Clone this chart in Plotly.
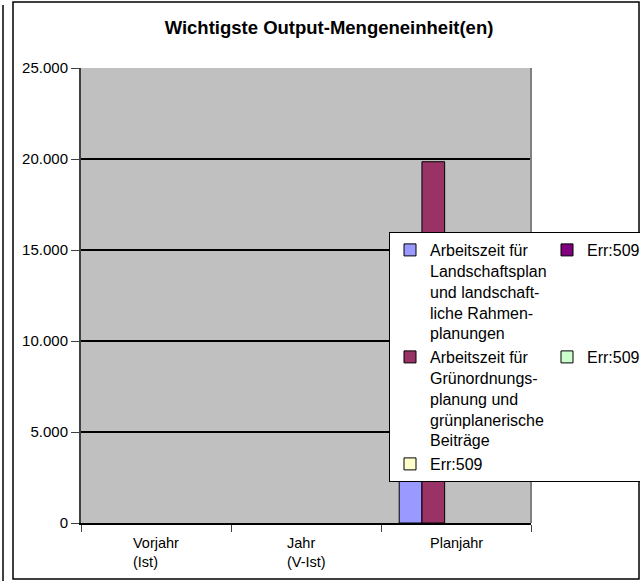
import plotly.graph_objects as go

categories = ["Vorjahr", "Jahr", "Planjahr"]
cat_labels = ["Vorjahr<br>(Ist)", "Jahr<br>(V-Ist)", "Planjahr"]

series_names = [
    "Arbeitszeit für<br>Landschaftsplan<br>und landschaft-<br>liche Rahmen-<br>planungen",
    "Arbeitszeit für<br>Grünordnungs-<br>planung und<br>grünplanerische<br>Beiträge",
    "Err:509",
    "Err:509",
    "Err:509",
]
series_values = [
    [None, None, 9000],
    [None, None, 19850],
    [None, None, None],
    [None, None, None],
    [None, None, None],
]
series_colors = ["#9999FF", "#993366", "#FFFFCC", "#800080", "#CCFFCC"]
legend_rank = [1, 3, 5, 2, 4]

W, H = 640, 581
L, R, T, B = 81, 531, 68, 523  # plot area in pixels

def px_x(px):
    return (px - L) / (R - L)

def px_y(py):
    return (B - py) / (B - T)

FONT = "Liberation Sans, Arial, sans-serif"

fig = go.Figure()
for name, vals, col, rank in zip(series_names, series_values, series_colors, legend_rank):
    fig.add_trace(go.Bar(
        x=categories, y=vals, name=name,
        marker=dict(color=col, line=dict(color="black", width=1)),
        legendrank=rank,
    ))

# Kategorie-Beschriftungen (linksbündig)
for c, lab in zip(categories, cat_labels):
    fig.add_annotation(x=c, y=0, xref="x", yref="y", text=lab, showarrow=False,
                       xanchor="center", yanchor="top", align="left", yshift=-10,
                       font=dict(family=FONT, size=14.5, color="black"))

shapes = [
    # rechter Rand Plotbereich
    dict(type="line", xref="paper", yref="paper", x0=1, x1=1, y0=0, y1=1,
         line=dict(color="#808080", width=2)),
    # Rahmen
    dict(type="rect", xref="paper", yref="paper", x0=px_x(13), x1=px_x(639),
         y0=px_y(579), y1=px_y(2), line=dict(color="black", width=1.5), layer="below"),
    dict(type="line", xref="paper", yref="paper", x0=px_x(3), x1=px_x(3),
         y0=px_y(581), y1=px_y(5), line=dict(color="black", width=1.5)),
]

fig.update_layout(
    width=W, height=H,
    margin=dict(l=L, r=W - R, t=T, b=H - B, autoexpand=False),
    paper_bgcolor="white", plot_bgcolor="#C0C0C0",
    separators=",.",
    font=dict(family=FONT, size=14, color="black"),
    title=dict(text="<b>Wichtigste Output-Mengeneinheit(en)</b>",
               x=329 / W, xanchor="center", xref="container",
               y=1 - 28 / H, yanchor="middle", yref="container",
               font=dict(family=FONT, size=18.5, color="black")),
    barmode="group", bargap=0.243, bargroupgap=0,
    showlegend=True,
    legend=dict(orientation="h", x=px_x(389), y=px_y(232), xanchor="left", yanchor="top",
                bgcolor="white", bordercolor="black", borderwidth=1,
                font=dict(family=FONT, size=16, color="black"),
                entrywidth=112, entrywidthmode="pixels",
                valign="top", traceorder="normal", itemclick=False),
    shapes=shapes,
)
fig.update_xaxes(type="category", showticklabels=False, showgrid=False,
                 showline=True, linecolor="black", linewidth=2,
                 ticks="outside", tickson="boundaries", ticklen=7, tickcolor="#404040",
                 tickwidth=1, zeroline=False)
fig.update_yaxes(range=[0, 25000], dtick=5000, tickformat=",.0f",
                 showgrid=True, gridcolor="black", gridwidth=2,
                 showline=True, linecolor="#404040", linewidth=2,
                 ticks="outside", ticklen=8, tickcolor="#404040", tickwidth=1,
                 zeroline=False, tickfont=dict(family=FONT, size=15, color="black"))

fig.write_html("out.html", config={"displayModeBar": False},
               post_script="document.body.style.margin='0';")
